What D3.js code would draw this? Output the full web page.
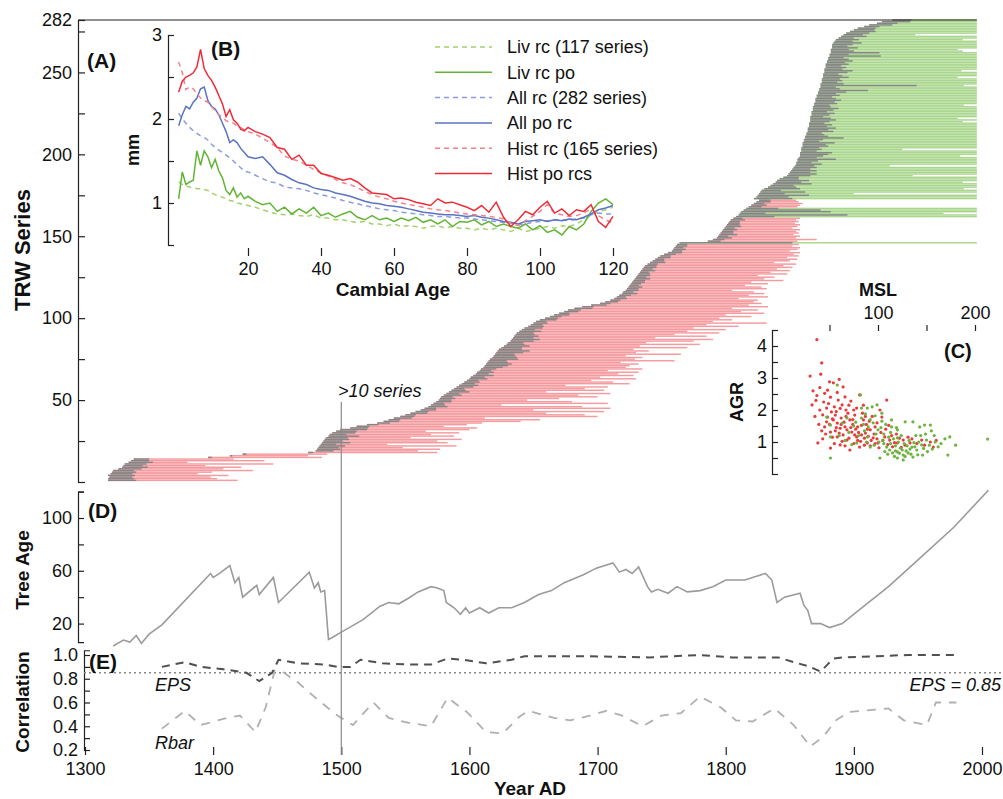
<!DOCTYPE html>
<html>
<head>
<meta charset="utf-8">
<script src="https://cdn.jsdelivr.net/npm/d3@7"></script>
<style>
  body { margin: 0; background: #fff; }
  svg text { font-family: "Liberation Sans", Arial, Helvetica, sans-serif; fill: #111; }
  .tick text { font-size: 18px; }
  .tick line, .domain { stroke: #222; stroke-width: 1.2; }
</style>
</head>
<body>
<div id="chart"></div>
<script>
/*
    TREE-RING COMPOSITE FIGURE (A-E)
*/

// ---- panel A: one bar per TRW series (start year, end year, grey pith-offset years)
const seriesGroups = [["hist", 145], ["liv", 1], ["hist", 15], ["liv", 6], ["hist", 5], ["liv", 110]]

const seriesStart = [
  1318,1318,1319,1318,1320,1321,1322,1326,1329,1330,1331,1334,1336,1338,
  1396,1413,1423,1474,
  1480,1481,1482,1483,1484,1485,1486,1487,1488,1490,1491,1493,1496,1499,1507,1512,1520,
  1528,1533,1537,1541,1546,1550,1554,1558,1562,1565,1568,1570,1572,1574,1576,
  1577,1578,1580,1582,1584,1586,1588,1590,1592,1594,1596,1598,1600,1601,1603,1605,1606,1608,1609,1611,
  1612,1613,1614,1615,1616,1618,1619,1620,1621,1622,1623,1625,1627,1629,1630,1632,1633,1634,1635,1636,1637,1639,
  1641,1643,1646,1648,1650,1652,1655,1659,1663,1666,1670,1674,1677,1682,1688,1695,1702,1706,
  1710,1713,1715,1717,1719,1720,1722,1723,1724,1725,1726,1727,1728,1729,1730,1731,1732,1733,1734,1735,
  1736,1737,1739,1741,1743,1745,1747,1749,1752,1755,1758,1759,1760,1761,1762,
  1764,
  1786,1790,1793,1794,1795,1796,1797,1798,1799,1800,1801,1802,1803,1804,1806,
  1808,1810,1811,1812,1814,1816,
  1818,1820,1822,1824,1826,
  1822,1824,1825,1826,1827,1828,1830,1833,
  1835,1837,1839,1840,1842,1845,1848,1849,1850,1851,
  1852,1853,1854,1855,1855,1856,1856,1857,1858,1858,
  1858,1859,1859,1859,1860,1860,1860,1861,1861,1862,
  1862,1863,1863,1864,1864,1864,1865,1865,1865,1866,
  1866,1866,1866,1867,1867,1867,1868,1868,1868,1869,
  1869,1870,1870,1870,1871,1871,1872,1872,1873,1873,
  1874,1874,1874,1875,1875,1875,1876,1876,1876,1877,
  1877,1877,1878,1878,1878,1879,1879,1880,1880,1881,
  1881,1882,1882,1882,1883,1883,1883,1884,1885,1886,
  1888,1890,1892,1894,1897,1900,1903,1908,1912,1918,
  1922,1930
]

const seriesEnd = [
  1419,1403,1398,1412,1388,1399,1431,1408,1422,1394,1447,1380,1440,1416,
  1485,1474,1489,1575,
  1560,1577,1548,1590,1536,1583,1575,1594,1554,1588,1570,1592,1566,1600,1606,1580,1598,
  1610,1640,1655,1612,1700,1690,1660,1705,1650,1710,1688,1625,1708,1680,1645,
  1670,1700,1685,1710,1660,1705,1690,1708,1675,1725,1712,1695,1730,1702,1728,1716,1732,1708,1735,1722,
  1725,1732,1718,1760,1729,1735,1722,1765,1730,1740,1728,1770,1733,1780,1738,1775,1790,1745,1785,1760,1795,1770,
  1800,1775,1810,1785,1832,1790,1805,1795,1820,1800,1830,1812,1825,1805,1833,1818,1828,1822,
  1825,1810,1833,1818,1830,1822,1805,1832,1828,1815,1833,1820,1845,1830,1838,1825,1848,1835,1850,1840,
  1852,1845,1855,1838,1850,1856,1848,1857,1853,1858,1850,1856,1858,1852,1857,
  1996,
  1856,1871,1855,1858,1853,1857,1855,1858,1852,1856,1858,1854,1857,1855,1858,
  1996,1996,1970,1996,1996,1996,
  1856,1858,1860,1857,1855,
  1996,1996,1996,1900,1996,1996,1986,1996,1996,1996,
  1985,1996,1996,1996,1946,1996,1996,1996,1996,1996,
  1928,1996,1996,1996,1996,1996,1983,1996,1996,1996,
  1938,1996,1996,1996,1996,1996,1996,1996,1996,1996,
  1996,1996,1996,1996,1996,1996,1996,1985,1996,1981,
  1996,1996,1996,1996,1996,1996,1996,1986,1996,1996,
  1996,1996,1996,1996,1996,1996,1996,1996,1996,1986,
  1996,1996,1996,1996,1981,1996,1996,1996,1984,1996,
  1996,1996,1996,1996,1996,1996,1996,1996,1996,1996,
  1985,1981,1996,1996,1996,1996,1996,1985,1996,1996,
  1948,1996,1996,1996,1996,1996,1996,1996,1996,1996
]

const seriesGray = [
  22,20,18,21,17,19,16,18,20,15,17,19,14,12,
  3,2,3,4,
  14,18,16,20,12,22,15,19,17,24,13,18,16,21,14,10,9,
  10,12,9,14,11,8,13,10,12,9,15,11,8,12,10,
  12,9,14,10,16,11,8,13,15,10,12,9,14,11,16,10,13,9,12,15,
  18,20,16,14,22,19,17,15,21,25,18,16,20,14,12,18,22,16,19,15,13,17,
  10,14,12,9,11,8,13,10,9,12,8,11,10,14,9,12,8,10,
  8,10,7,9,12,8,10,9,11,7,8,10,9,12,8,10,9,7,11,8,
  10,9,8,12,9,7,10,8,9,11,8,10,7,9,8,
  88,
  10,9,12,8,14,10,9,11,8,12,10,9,8,11,7,
  30,85,20,70,60,25,
  10,12,8,11,9,
  30,25,40,20,35,15,28,22,18,30,
  20,25,15,12,18,22,16,20,14,18,
  15,20,12,16,30,14,18,22,25,12,
  16,14,20,18,25,12,15,30,18,14,
  12,20,16,22,14,18,12,15,20,16,
  10,14,18,12,16,20,14,12,18,15,
  20,16,12,18,14,22,38,16,12,75,
  18,12,16,14,20,15,12,18,22,14,
  16,12,18,14,20,16,12,40,15,38,
  18,14,20,12,16,22,14,18,12,20,
  15,18,20,16,14,12,18,16,22,15
]

// ---- panel B: mean ring width by cambial age
const cambialAge = d3.range(1, 21).concat(d3.range(22, 121, 2))

const livRc = [1.25,1.22,1.20,1.19,1.18,1.17,1.17,1.16,1.15,1.12,1.10,1.08,1.07,1.05,1.03,1.02,1.00,0.99,0.98,0.97,
  0.95,0.92,0.89,0.87,0.86,0.87,0.85,0.84,0.86,0.82,0.82,0.80,0.80,0.78,0.77,0.78,0.75,0.75,0.73,0.75,
  0.72,0.73,0.72,0.70,0.72,0.73,0.70,0.72,0.70,0.70,0.68,0.70,0.68,0.70,0.68,0.66,0.70,0.66,0.68,0.70,
  0.72,0.70,0.73,0.72,0.75,0.80,0.85,0.90,0.92,0.95]
const livPo = [1.05,1.37,1.22,1.25,1.27,1.62,1.45,1.62,1.55,1.42,1.52,1.38,1.30,1.15,1.10,1.18,1.07,1.12,1.05,1.08,
  1.02,0.98,1.00,0.90,0.95,0.87,0.93,0.88,0.95,0.85,0.88,0.83,0.87,0.90,0.83,0.80,0.85,0.80,0.82,0.78,
  0.82,0.79,0.83,0.77,0.80,0.75,0.80,0.72,0.78,0.77,0.80,0.74,0.78,0.72,0.75,0.72,0.70,0.75,0.68,0.73,
  0.65,0.68,0.62,0.72,0.68,0.75,0.90,1.00,1.05,0.98]
const allRc = [2.07,2.00,1.95,1.90,1.86,1.83,1.80,1.78,1.75,1.70,1.66,1.63,1.60,1.57,1.54,1.50,1.46,1.42,1.38,1.37,
  1.33,1.29,1.25,1.24,1.19,1.18,1.17,1.15,1.12,1.10,1.08,1.06,1.03,1.01,0.99,0.97,0.95,0.93,0.92,0.91,
  0.89,0.88,0.87,0.86,0.85,0.84,0.84,0.83,0.82,0.82,0.81,0.80,0.79,0.78,0.77,0.76,0.74,0.75,0.77,0.78,
  0.79,0.80,0.80,0.79,0.81,0.82,0.86,0.88,0.87,0.87]
const allPo = [1.92,2.05,2.15,2.12,2.20,2.25,2.36,2.38,2.22,2.15,2.12,2.05,1.95,1.85,1.72,1.75,1.72,1.65,1.60,1.55,
  1.53,1.55,1.46,1.36,1.33,1.28,1.24,1.22,1.18,1.16,1.15,1.12,1.10,1.08,1.05,1.02,1.00,0.99,0.97,0.96,
  0.95,0.93,0.91,0.89,0.88,0.87,0.86,0.86,0.85,0.84,0.85,0.83,0.82,0.80,0.78,0.77,0.75,0.78,0.79,0.80,
  0.78,0.80,0.79,0.81,0.80,0.83,0.87,0.92,0.94,0.97]
const histRc = [2.68,2.55,2.35,2.38,2.36,2.30,2.25,2.22,2.20,2.15,2.10,2.05,2.02,1.98,1.96,1.95,1.92,1.90,1.87,1.85,
  1.82,1.77,1.72,1.66,1.56,1.52,1.50,1.45,1.40,1.36,1.32,1.28,1.24,1.22,1.18,1.14,1.10,1.07,1.05,1.02,
  1.00,0.98,0.97,0.95,0.93,0.92,0.91,0.90,0.88,0.87,0.86,0.85,0.84,0.83,0.81,0.76,0.73,0.79,0.84,0.90,
  0.98,0.88,0.86,0.84,0.85,0.88,0.93,0.85,0.80,0.76]
const histPo = [2.32,2.45,2.50,2.52,2.55,2.62,2.83,2.60,2.52,2.46,2.38,2.28,2.18,2.03,2.11,1.99,1.95,1.88,1.86,1.90,
  1.85,1.82,1.78,1.66,1.64,1.52,1.57,1.45,1.45,1.35,1.33,1.30,1.27,1.29,1.25,1.18,1.12,1.11,1.10,1.05,
  1.06,1.04,1.01,0.99,0.97,1.05,1.00,1.01,0.98,0.95,0.91,0.97,0.89,1.01,0.83,0.72,0.80,0.90,0.86,0.95,
  1.02,0.88,0.93,0.85,0.92,0.90,0.98,0.78,0.71,0.84]

const legendLabels = ["Liv rc (117 series)", "Liv rc po", "All rc (282 series)", "All po rc", "Hist rc (165 series)", "Hist po rcs"]

// ---- panel C: mean segment length vs average growth rate
const histPoints = [[37,4.2],[42,3.47],[30,3.06],[41,3.12],[50,2.88],[54,2.85],[60,2.96],[40,2.7],[37,2.45],[32,2.16],
  [45,2.52],[51,2.4],[64,2.72],[66,2.41],[59,2.31],[63,2.16],[40,2.0],[47,2.06],[52,1.94],[56,1.84],
  [54,1.69],[58,1.59],[47,1.63],[45,1.47],[51,1.31],[61,1.43],[66,1.47],[71,1.69],[69,1.9],[76,1.84],
  [81,2.47],[78,2.06],[85,1.69],[79,1.47],[73,1.31],[64,1.22],[58,1.16],[68,1.06],[78,1.16],[87,1.28],
  [92,1.38],[97,1.47],[104,1.78],[109,2.31],[102,2.0],[95,1.13],[100,0.97],[107,1.16],[112,1.06],[120,0.97],
  [126,1.06],[133,0.97],[145,1.06],[154,1.0],[157,0.84],[38,0.97],[51,0.81],[61,0.91],[71,0.75],[81,0.84],
  [89,0.97],[43,1.85],[48,1.78],[53,1.72],[57,1.95],[62,1.75],[65,1.62],[68,1.38],[72,1.45],[74,1.55],
  [77,1.4],[80,1.3],[83,1.22],[86,1.12],[90,1.18],[93,1.05],[96,1.25],[99,1.1],[103,1.3],[105,1.05],
  [110,0.92],[114,1.2],[117,0.98],[122,1.12],[128,0.9],[135,1.1],[140,0.95],[148,0.9],[160,1.05],[44,2.25],
  [49,2.2],[55,2.1],[61,2.05],[67,1.8],[70,2.15],[75,2.0],[84,1.9],[88,1.55],[91,1.65],[94,1.8],
  [99,1.6],[46,1.25],[53,1.15],[56,1.35],[60,1.28],[63,1.02],[66,0.88],[70,1.12],[75,0.95],[82,1.02],
  [86,0.9],[33,2.6],[35,1.8],[39,1.55],[42,1.35],[36,2.3],[48,2.62],[58,2.55],[72,2.28],[85,2.15],
  [43,1.1],[55,0.95],[92,0.88],[101,0.82],[115,0.85],[124,0.83],[76,1.22],[79,1.05],[83,1.52],[89,1.4],
  [97,0.95],[108,1.4],[111,1.52],[119,1.25],[131,1.15],[62,1.55],[50,1.55],[67,2.0],[57,1.45],[74,1.7],[87,1.8]]
const livPoints = [[58,2.78],[82,2.47],[83,2.06],[89,2.06],[94,2.1],[99,2.16],[47,1.78],[51,1.53],[63,1.59],[83,1.75],
  [90,1.47],[104,1.9],[114,1.69],[114,1.47],[120,1.38],[128,1.63],[136,1.63],[143,1.47],[148,1.53],[154,1.53],
  [51,1.16],[78,0.97],[89,1.16],[92,0.84],[100,1.38],[105,1.06],[109,0.84],[112,0.75],[115,0.66],[120,0.69],
  [123,0.81],[126,0.59],[131,0.66],[135,0.84],[140,0.75],[145,0.91],[150,1.06],[159,1.0],[146,0.59],[126,0.44],
  [51,0.5],[102,0.5],[172,0.59],[174,1.16],[213,1.09],[120,0.5],[136,0.53],[120,1.13],[70,1.3],[75,1.5],
  [80,1.2],[86,1.35],[95,1.6],[98,1.25],[101,1.0],[106,1.25],[108,1.55],[111,1.15],[113,0.95],[116,1.1],
  [118,0.88],[121,1.0],[124,1.2],[127,0.95],[129,0.72],[132,1.05],[134,0.62],[137,0.98],[139,1.2],[141,0.6],
  [144,1.2],[147,0.8],[151,0.7],[153,0.9],[156,0.78],[158,1.2],[162,0.85],[165,0.95],[110,0.62],[117,0.55],
  [122,0.65],[128,0.55],[133,0.78],[118,0.72],[125,0.75],[130,0.88],[96,0.9],[88,1.0],[85,1.55],[92,1.7],
  [103,1.45],[66,1.05],[73,0.92],[60,1.2],[97,1.82],[107,0.7],[142,1.0],[149,1.25],[138,0.85],[113,1.3],
  [106,0.95],[119,1.45],[169,1.1],[155,1.35],[180,0.9],[104,1.65],[87,1.88],[77,1.62],[68,1.75]]

// ---- panel D: mean tree age
const ageYear = [1322,1330,1335,1340,1344,1350,1360,1398,1400,1405,1413,1417,1420,1423,1434,1436,1447,1451,1475,1479,
  1482,1484,1487,1490,1494,1499,1517,1530,1537,1545,1552,1560,1570,1575,1580,1582,1588,1593,1597,1600,
  1608,1615,1623,1633,1643,1654,1664,1674,1689,1699,1712,1717,1722,1727,1732,1739,1742,1747,1755,1762,
  1770,1780,1790,1800,1815,1821,1831,1836,1840,1846,1858,1861,1864,1867,1874,1881,1891,1901,1927,1952,
  1978,2005]
const ageValue = [3,7.5,6,11,5,12,19,58,55,58,64,51,55,40,49,42,55,36,59,47,
  51,44,45,8,10,13,23,33,36,35,39,44,48,47,45,36,32,27,32,28,
  32,28,32,32,36,42,45,51,57,62,66,59,61,58,63,48,44,46,43,48,
  44,45,48,53,53,55,58,53,36,40,43,34,30,20,20,17,20,28,48,70,
  93,121]

// ---- panel E: EPS and Rbar
const epsYear = [1360,1378,1390,1408,1426,1436,1446,1451,1466,1487,1497,1507,1515,1532,1552,1570,1583,1595,1613,1633,
  1643,1689,1740,1780,1805,1841,1853,1866,1874,1884,1892,1942,1980]
const epsValue = [0.90,0.94,0.90,0.88,0.85,0.78,0.85,0.96,0.93,0.92,0.90,0.90,0.96,0.93,0.92,0.92,0.97,0.96,0.93,0.96,
  0.99,0.99,0.98,1.0,0.98,0.98,0.94,0.90,0.86,0.97,0.98,1.0,1.0]
const rbarYear = [1360,1378,1390,1411,1421,1433,1441,1448,1454,1466,1482,1497,1509,1525,1537,1552,1570,1583,1598,1613,
  1626,1639,1646,1666,1679,1694,1707,1719,1735,1750,1765,1780,1796,1808,1821,1838,1853,1866,1876,1886,
  1896,1917,1927,1939,1957,1964,1980]
const rbarValue = [0.38,0.53,0.41,0.47,0.49,0.35,0.56,0.87,0.86,0.77,0.62,0.49,0.41,0.60,0.47,0.43,0.40,0.64,0.52,0.35,
  0.34,0.48,0.53,0.47,0.45,0.49,0.53,0.49,0.40,0.49,0.51,0.65,0.56,0.45,0.44,0.55,0.41,0.23,0.31,0.45,
  0.52,0.54,0.55,0.45,0.41,0.60,0.60]

const yearTicks = [1300, 1400, 1500, 1600, 1700, 1800, 1900, 2000]

// ------------------------------------------------------------------
const width = 1003, height = 799
const svg = d3.select("#chart").append("svg")
  .attr("width", width).attr("height", height)

const x = d3.scaleLinear().domain([1300, 2000]).range([85, 982])
const yA = d3.scaleLinear().domain([0, 282]).range([482, 20])

const boldText = (g, txt, px, py, size, rotate) => {
  const t = g.append("text")
    .attr("text-anchor", "middle")
    .style("font-weight", "bold")
    .style("font-size", size + "px")
    .text(txt)
  if (rotate) t.attr("transform", `translate(${px},${py}) rotate(-90)`).attr("dy", "0.35em")
  else t.attr("x", px).attr("y", py)
  return t
}

// ================= PANEL A =================
const series = seriesStart.map((s, i) => ({ i: i + 1, start: s, end: seriesEnd[i], gray: seriesGray[i] }))
const types = seriesGroups.flatMap(([t, n]) => Array(n).fill(t))
series.forEach((d, i) => d.type = types[i])

const gA = svg.append("g")
const barH = 1.45
gA.selectAll(".bar").data(series).join("rect")
  .attr("class", "bar")
  .attr("x", d => x(d.start))
  .attr("width", d => x(d.end) - x(d.start))
  .attr("y", d => yA(d.i) - barH / 2)
  .attr("height", barH)
  .attr("fill", d => d.type === "liv" ? "#a9d68d" : "#f59a9e")
gA.selectAll(".pith").data(series).join("rect")
  .attr("class", "pith")
  .attr("x", d => x(d.start))
  .attr("width", d => x(d.start + d.gray) - x(d.start))
  .attr("y", d => yA(d.i) - barH / 2)
  .attr("height", barH)
  .attr("fill", "#858585")

// top frame line
gA.append("line").attr("x1", 78).attr("x2", x(1996)).attr("y1", yA(282)).attr("y2", yA(282))
  .attr("stroke", "#222").attr("stroke-width", 1.2)

const aTicks = d3.range(0, 276, 25).concat([282])
gA.append("g").attr("transform", "translate(78,0)")
  .call(d3.axisLeft(yA).tickValues(aTicks).tickSize(-7).tickPadding(6)
    .tickFormat(d => (d % 50 === 0 && d > 0) || d === 282 ? d : ""))
boldText(gA, "TRW Series", 22, 250, 22, true)
gA.append("text").attr("x", 87).attr("y", 68).style("font-weight", "bold").style("font-size", "21px").text("(A)")

// ================= PANEL B (inset) =================
const gB = svg.append("g")
const xB = d3.scaleLinear().domain([0, 120]).range([175, 613])
const yB = d3.scaleLinear().domain([1, 2]).range([203, 119])

gB.append("g").attr("transform", "translate(168,0)")
  .call(d3.axisLeft(yB.copy().domain([0.5, 3]).range([yB(0.5), yB(3)]))
    .tickValues([0.5, 1, 1.5, 2, 2.5, 3]).tickSize(-6).tickPadding(6)
    .tickFormat(d => Number.isInteger(d) ? d : ""))
const bx = gB.append("g").attr("transform", "translate(0,256)")
  .call(d3.axisBottom(xB).tickValues([20, 40, 60, 80, 100, 120]).tickSize(-8).tickPadding(6))
bx.select(".domain").remove()
boldText(gB, "Cambial Age", 393, 296, 19)
boldText(gB, "mm", 133, 150, 18, true)
gB.append("text").attr("x", 211).attr("y", 56).style("font-weight", "bold").style("font-size", "21px").text("(B)")

const bSeries = [
  { v: livRc, color: "#a3d170", dash: "5,4" },
  { v: livPo, color: "#62b434", dash: null },
  { v: allRc, color: "#8d9cdb", dash: "5,4" },
  { v: allPo, color: "#5a74c3", dash: null },
  { v: histRc, color: "#f4828a", dash: "5,4" },
  { v: histPo, color: "#ee2c38", dash: null }
]
const lineB = d3.line().x((d, i) => xB(cambialAge[i])).y(d => yB(d))
gB.selectAll(".bline").data(bSeries).join("path")
  .attr("class", "bline")
  .attr("d", d => lineB(d.v))
  .attr("fill", "none")
  .attr("stroke", d => d.color)
  .attr("stroke-width", 1.5)
  .attr("stroke-dasharray", d => d.dash)

const leg = gB.append("g").selectAll("g").data(bSeries).join("g")
  .attr("transform", (d, i) => `translate(0,${47 + i * 25.3})`)
leg.append("line").attr("x1", 435).attr("x2", 492)
  .attr("stroke", d => d.color).attr("stroke-width", 1.5).attr("stroke-dasharray", d => d.dash)
leg.append("text").attr("x", 507).attr("dy", "0.35em").style("font-size", "18px")
  .text((d, i) => legendLabels[i])

// ================= PANEL C (inset) =================
const gC = svg.append("g")
const xC = d3.scaleLinear().domain([0, 200]).range([781, 975])
const yC = d3.scaleLinear().domain([0, 4]).range([474, 346])
gC.append("g").attr("transform", "translate(772,0)")
  .call(d3.axisLeft(yC.copy().domain([0, 4.5]).range([yC(0), yC(4.5)]))
    .tickValues(d3.range(0, 4.51, 0.5)).tickSize(-6).tickPadding(5)
    .tickFormat(d => Number.isInteger(d) && d > 0 ? d : ""))
const cx = gC.append("g").attr("transform", "translate(0,325)")
  .call(d3.axisTop(xC).tickValues([50, 100, 150, 200]).tickSize(-6).tickPadding(6)
    .tickFormat(d => d % 100 === 0 ? d : ""))
cx.select(".domain").remove()
boldText(gC, "MSL", 878, 296, 18)
boldText(gC, "AGR", 737, 402, 18, true)
gC.append("text").attr("x", 944).attr("y", 358).style("font-weight", "bold").style("font-size", "20px").text("(C)")

gC.selectAll(".hp").data(histPoints).join("circle")
  .attr("cx", d => xC(d[0])).attr("cy", d => yC(d[1])).attr("r", 1.6).attr("fill", "#e93b3b")
gC.selectAll(".lp").data(livPoints).join("circle")
  .attr("cx", d => xC(d[0])).attr("cy", d => yC(d[1])).attr("r", 1.6).attr("fill", "#6db33f")

// ================= PANEL D =================
const gD = svg.append("g")
const yD = d3.scaleLinear().domain([0, 120]).range([650, 491.6])
gD.append("g").attr("transform", "translate(78,0)")
  .call(d3.axisLeft(yD.copy().domain([6, 120]).range([yD(6), yD(120)]))
    .tickValues([20, 40, 60, 80, 100, 120]).tickSize(-6).tickPadding(6)
    .tickFormat(d => d % 40 === 20 ? d : ""))
gD.append("path")
  .attr("d", d3.line().x((d, i) => x(ageYear[i])).y(d => yD(d))(ageValue))
  .attr("fill", "none").attr("stroke", "#9b9b9b").attr("stroke-width", 1.6)
boldText(gD, "Tree Age", 22, 570, 19, true)
gD.append("text").attr("x", 88).attr("y", 518).style("font-weight", "bold").style("font-size", "21px").text("(D)")

// ================= PANEL E =================
const gE = svg.append("g")
const yE = d3.scaleLinear().domain([0.2, 1.0]).range([750, 655])
gE.append("g").attr("transform", "translate(84,0)")
  .call(d3.axisLeft(yE.copy().domain([0.2, 1.04]).range([yE(0.2), yE(1.04)]))
    .tickValues(d3.range(0.2, 1.01, 0.1)).tickSize(-6).tickPadding(6)
    .tickFormat(d => Math.round(d * 10) % 2 === 0 ? d3.format(".1f")(d) : ""))
const ex = gE.append("g").attr("transform", "translate(0,755)")
  .call(d3.axisBottom(x).tickValues(yearTicks).tickSize(-8).tickPadding(7).tickFormat(d3.format("d")))
ex.select(".domain").remove()

gE.append("line").attr("x1", 84).attr("x2", 1003).attr("y1", yE(0.85)).attr("y2", yE(0.85))
  .attr("stroke", "#888").attr("stroke-width", 1.5).attr("stroke-dasharray", "2,3")
gE.append("path")
  .attr("d", d3.line().x((d, i) => x(rbarYear[i])).y(d => yE(d))(rbarValue))
  .attr("fill", "none").attr("stroke", "#b0b0b0").attr("stroke-width", 1.8).attr("stroke-dasharray", "9,8")
gE.append("path")
  .attr("d", d3.line().x((d, i) => x(epsYear[i])).y(d => yE(d))(epsValue))
  .attr("fill", "none").attr("stroke", "#505050").attr("stroke-width", 2).attr("stroke-dasharray", "8,6")

boldText(gE, "Correlation", 22, 702, 19, true)
boldText(gE, "Year AD", 530, 795, 19)
gE.append("text").attr("x", 89).attr("y", 669).style("font-weight", "bold").style("font-size", "21px").text("(E)")

const italic = (txt, px, py, anchor) => svg.append("text")
  .attr("x", px).attr("y", py).attr("text-anchor", anchor || "start")
  .style("font-style", "italic").style("font-size", "18px").text(txt)
italic("EPS", 155, 691)
italic("Rbar", 155, 749)
italic("EPS = 0.85", 1001, 691, "end")
italic(">10 series", 338, 397)

// 1500 marker: first year with more than ten series
svg.append("line").attr("x1", x(1500)).attr("x2", x(1500)).attr("y1", 402).attr("y2", 755)
  .attr("stroke", "#8a8a8a").attr("stroke-width", 1.2)
</script>
</body>
</html>
